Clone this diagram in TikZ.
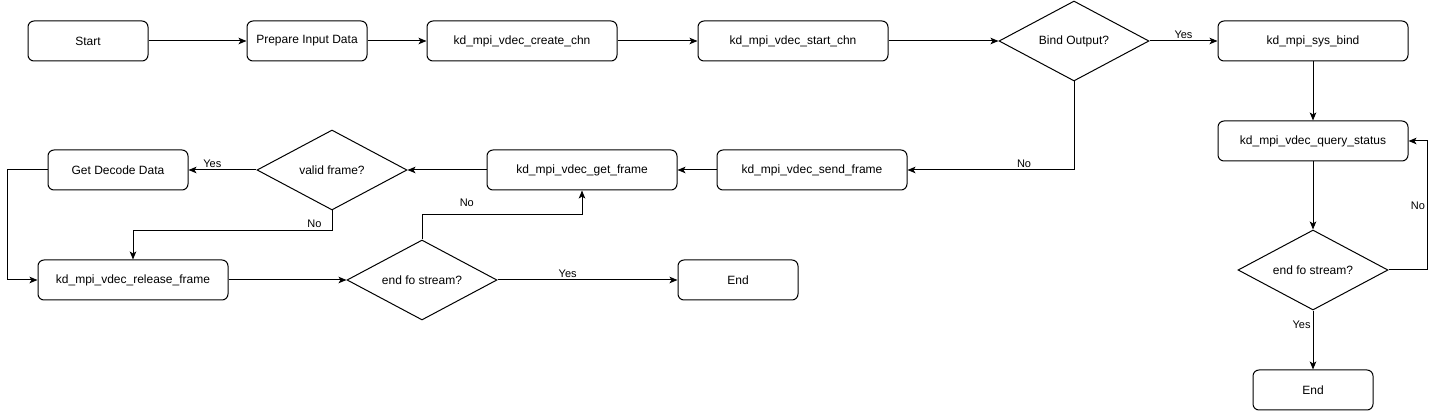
\documentclass[tikz,border=0pt]{standalone}
\usepackage{fontspec}
\setmainfont{Liberation Sans}
\usetikzlibrary{shapes.geometric,arrows.meta}

\begin{document}
\begin{tikzpicture}[x=1pt,y=-1pt,line width=1pt,
  stepbox/.style={draw,rounded corners=6pt,minimum height=40pt,inner sep=0pt,font=\fontsize{12}{14}\selectfont},
  askbox/.style={draw,diamond,aspect=1.875,minimum width=150pt,minimum height=80pt,inner sep=0pt,font=\fontsize{12}{14}\selectfont},
  arr/.style={-{Stealth[length=8pt,width=6.5pt,inset=2pt]}},
  lbl/.style={font=\fontsize{11}{13}\selectfont,inner sep=2pt}]
\useasboundingbox (0,0) rectangle (1436,411);
\node[stepbox,minimum width=120pt] (start) at (88,41) {Start};
\node[stepbox,minimum width=120pt] (prep) at (307,41) {Prepare Input Data};
\node[stepbox,minimum width=190pt] (create) at (522,41) {kd\_mpi\_vdec\_create\_chn};
\node[stepbox,minimum width=190pt] (startc) at (793,41) {kd\_mpi\_vdec\_start\_chn};
\node[askbox] (bind) at (1074,41) {Bind Output?};
\node[stepbox,minimum width=190pt] (sysbind) at (1313,41) {kd\_mpi\_sys\_bind};
\node[stepbox,minimum width=190pt] (query) at (1313,141) {kd\_mpi\_vdec\_query\_status};
\node[askbox] (eos2) at (1313,270) {end fo stream?};
\node[stepbox,minimum width=120pt] (end2) at (1313,390) {End};
\node[stepbox,minimum width=190pt] (send) at (812,170) {kd\_mpi\_vdec\_send\_frame};
\node[stepbox,minimum width=190pt] (getf) at (582,170) {kd\_mpi\_vdec\_get\_frame};
\node[askbox] (valid) at (332,170) {valid frame?};
\node[stepbox,minimum width=140pt] (getd) at (118,170) {Get Decode Data};
\node[stepbox,minimum width=190pt] (release) at (133,280) {kd\_mpi\_vdec\_release\_frame};
\node[askbox] (eos) at (422,280) {end fo stream?};
\node[stepbox,minimum width=120pt] (endb) at (738,280) {End};

\draw[arr] (start) -- (prep);
\draw[arr] (prep) -- (create);
\draw[arr] (create) -- (startc);
\draw[arr] (startc) -- (bind);
\draw[arr] (bind) -- node[lbl,above] {Yes} (sysbind);
\draw[arr] (bind.south) |- node[lbl,above,pos=0.65] {No} (send.east);
\draw[arr] (sysbind) -- (query);
\draw[arr] (query) -- (eos2);
\draw[arr] (eos2) -- node[lbl,left,pos=0.25] {Yes} (end2);
\draw[arr] (eos2.east) -- ++(39,0) |- node[lbl,left,pos=0.25] {No} (query.east);
\draw[arr] (send) -- (getf);
\draw[arr] (getf) -- (valid);
\draw[arr] (valid) -- node[lbl,above,pos=0.65] {Yes} (getd);
\draw[arr] (getd.west) -- ++(-40,0) |- (release.west);
\draw[arr] (valid.south) -- ++(0,20) node[lbl,above left,xshift=-8pt] {No} -| (release.north);
\draw[arr] (release) -- (eos);
\draw[arr] (eos.north) -- ++(0,-25) -| node[lbl,above,pos=0.14,yshift=5pt] {No} (getf.south);
\draw[arr] (eos) -- node[lbl,above,pos=0.39] {Yes} (endb);
\end{tikzpicture}
\end{document}
